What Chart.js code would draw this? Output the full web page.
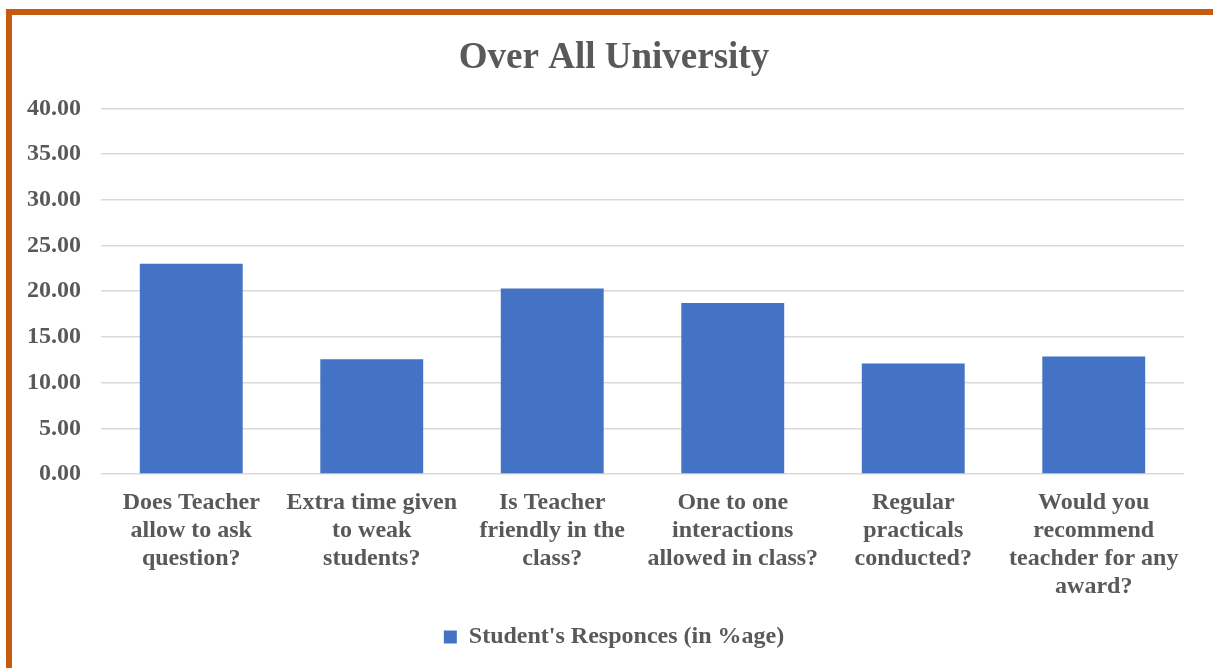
<!DOCTYPE html>
<html>
<head>
<meta charset="utf-8">
<script src="https://cdn.jsdelivr.net/npm/chart.js@4/dist/chart.umd.min.js"></script>
<style>
  html, body { margin: 0; padding: 0; background: #fff; }
  #wrap { width: 1213px; height: 668px; position: relative; }
</style>
</head>
<body>
<div id="wrap"><canvas id="grafico"></canvas></div>
<script>
const categorias = [
    ['Does Teacher', 'allow to ask', 'question?'],
    ['Extra time given', 'to weak', 'students?'],
    ['Is Teacher', 'friendly in the', 'class?'],
    ['One to one', 'interactions', 'allowed in class?'],
    ['Regular', 'practicals', 'conducted?'],
    ['Would you', 'recommend', 'teachder for any', 'award?']
];
const respuestas = [23.00, 12.56, 20.29, 18.71, 12.09, 12.86];
const nombreSerie = "Student's Responces (in %age)";
const titulo = 'Over All University';

const gris = '#595959';
const fuente = 'Liberation Serif';

// marco naranja alrededor del grafico
const marco = {
    id: 'marco',
    afterDraw(chart) {
        const ctx = chart.ctx;
        ctx.save();
        ctx.strokeStyle = '#C55A11';
        ctx.lineWidth = 6;
        ctx.strokeRect(9, 12, 1213, 700);
        ctx.restore();
    }
};

const ctx = document.getElementById('grafico').getContext('2d');
window.miGrafico = new Chart(ctx, {
    type: 'bar',
    data: {
        labels: categorias,
        datasets: [{
            label: nombreSerie,
            data: respuestas,
            backgroundColor: '#4472C4',
            barPercentage: 0.57,
            categoryPercentage: 1.0
        }]
    },
    options: {
        responsive: true,
        maintainAspectRatio: false,
        animation: false,
        layout: { padding: { left: 15, right: 0, top: 0, bottom: 9 } },
        plugins: {
            title: {
                display: true,
                text: titulo,
                color: gris,
                font: { family: fuente, size: 37, weight: 'bold' },
                padding: { top: 36, bottom: 28 }
            },
            legend: {
                position: 'bottom',
                labels: {
                    color: gris,
                    font: { family: fuente, size: 24, weight: 'bold' },
                    boxWidth: 13,
                    boxHeight: 13,
                    padding: 17
                }
            },
            tooltip: { enabled: false }
        },
        scales: {
            x: {
                afterFit: (s) => { s.height = 134; },
                grid: { display: false, drawTicks: false },
                border: { display: false },
                ticks: {
                    color: gris,
                    maxRotation: 0,
                    autoSkip: false,
                    padding: 15,
                    font: { family: fuente, size: 24, weight: 'bold', lineHeight: 1.17 }
                }
            },
            y: {
                min: 0,
                max: 40,
                afterFit: (s) => { s.width = 86; },
                grid: { color: '#D9D9D9', lineWidth: 1.5, drawTicks: false },
                border: { display: false },
                ticks: {
                    stepSize: 5,
                    color: gris,
                    padding: 20,
                    font: { family: fuente, size: 24, weight: 'bold' },
                    callback: (v) => v.toFixed(2)
                }
            },
            // margen derecho vacio
            yDerecha: {
                position: 'right',
                afterFit: (s) => { s.width = 29; },
                grid: { display: false, drawTicks: false },
                border: { display: false },
                ticks: { display: false }
            }
        }
    },
    plugins: [marco]
});
</script>
</body>
</html>
